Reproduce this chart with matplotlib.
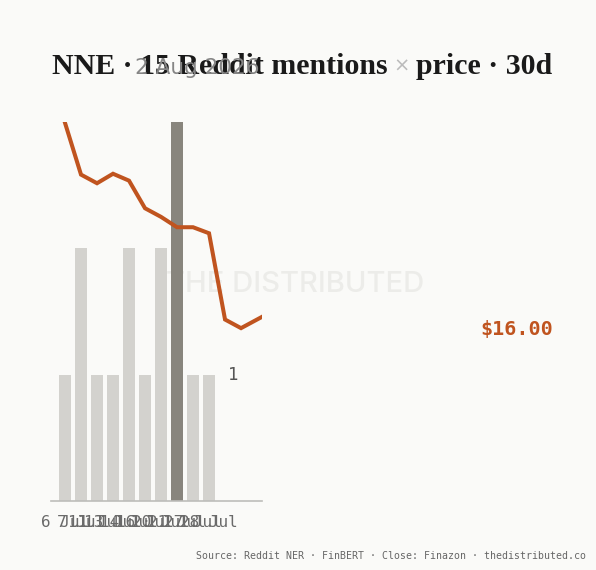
import matplotlib
matplotlib.use("Agg")
import matplotlib.pyplot as plt
import matplotlib.transforms as mtransforms

# ---- data ----
ticker = "NNE"
mention_total = 15
window = "30d"
as_of = "2 Aug 2026"
days = ["6 Jul", "7 Jul", "11 Jul", "13 Jul", "14 Jul", "16 Jul", "20 Jul", "21 Jul", "27 Jul", "28 Jul"]
mentions = [1, 2, 1, 1, 2, 1, 2, 3, 1, 1]
highlight_idx = 7
price_x = list(range(14))
price = [18.40, 17.80, 17.70, 17.81, 17.73, 17.41, 17.31, 17.19, 17.19, 17.12, 16.12, 16.02, 16.12, 16.22]
last_close = 16.00
last_mentions = 1

BG = "#FAFAF8"
ORANGE = "#C0541F"
LIGHT = "#D3D2CE"
DARK = "#88857D"

W, H = 596, 570
fig = plt.figure(figsize=(W / 100, H / 100), dpi=100, facecolor=BG)
ax = fig.add_axes([51 / W, 1 - 501 / H, (262 - 51) / W, (501 - 122) / H])
ax.set_facecolor("none")

# watermark (behind the bars)
fig.text(295 / W, 1 - 285 / H, "THE DISTRIBUTED", ha="center", va="center",
         fontsize=21, fontweight="medium", family="Inter", color="#ECECE9", zorder=-1)

colors = [DARK if i == highlight_idx else LIGHT for i in range(len(mentions))]
ax.bar(range(len(mentions)), mentions, width=0.75, color=colors, zorder=2)
ax.set_xlim(-0.875, 12.31)
ax.set_ylim(0, 3)
ax.set_xticks(range(len(days)))
ax.set_xticklabels(days, family="DejaVu Sans Mono", fontsize=11.5, color="#6A6A6A")
ax.tick_params(axis="x", length=0, pad=10)
ax.set_yticks([])
for s in ["top", "right", "left"]:
    ax.spines[s].set_visible(False)
ax.spines["bottom"].set_color("#BDBDBA")
ax.spines["bottom"].set_linewidth(1.2)

ax.text(10.2, last_mentions, str(last_mentions), ha="left", va="center",
        family="DejaVu Sans Mono", fontsize=12.5, color="#555555")

ax2 = ax.twinx()
ax2.set_ylim(14.016, 18.41)
ax2.plot(price_x, price, color=ORANGE, lw=2.9, solid_joinstyle="miter", zorder=3)
ax2.axis("off")
ax2.set_xlim(-0.875, 12.31)

trans = mtransforms.blended_transform_factory(fig.transFigure, ax2.transData)
ax2.text(480 / W, last_close, f"${last_close:.2f}", transform=trans, ha="left", va="center",
         family="DejaVu Sans Mono", fontweight="bold", fontsize=14.5, color=ORANGE, clip_on=False)

# title in three coloured pieces
TFONT = dict(family="Liberation Serif", fontweight="bold", fontsize=21.5, color="#1A1A1A")
fig.canvas.draw()
r = fig.canvas.get_renderer()
base_y = H - 74
t1 = fig.text(52, base_y, f"{ticker} · {mention_total} Reddit mentions", ha="left",
              va="baseline", transform=mtransforms.IdentityTransform(), **TFONT)
bb1 = t1.get_window_extent(r)
t2 = fig.text(bb1.x1 + 6, base_y + 2, "×", ha="left", va="baseline", family="DejaVu Sans",
              fontsize=14, color="#BBBBBB", transform=mtransforms.IdentityTransform())
bb2 = t2.get_window_extent(r)
t3 = fig.text(bb2.x1 + 6, base_y, "price · " + window, ha="left", va="baseline",
              transform=mtransforms.IdentityTransform(), **TFONT)

fig.text(197 / W, 1 - 74 / H, as_of, ha="center", va="baseline", family="DejaVu Sans",
         fontsize=15.5, color="#858585")

fig.text(586 / W, 1 - 556 / H, "Source: Reddit NER · FinBERT · Close: Finazon · thedistributed.co",
         ha="right", va="center", family="DejaVu Sans Mono", fontsize=7.1, color="#666666")

fig.savefig("out.png", dpi=100, facecolor=BG)
